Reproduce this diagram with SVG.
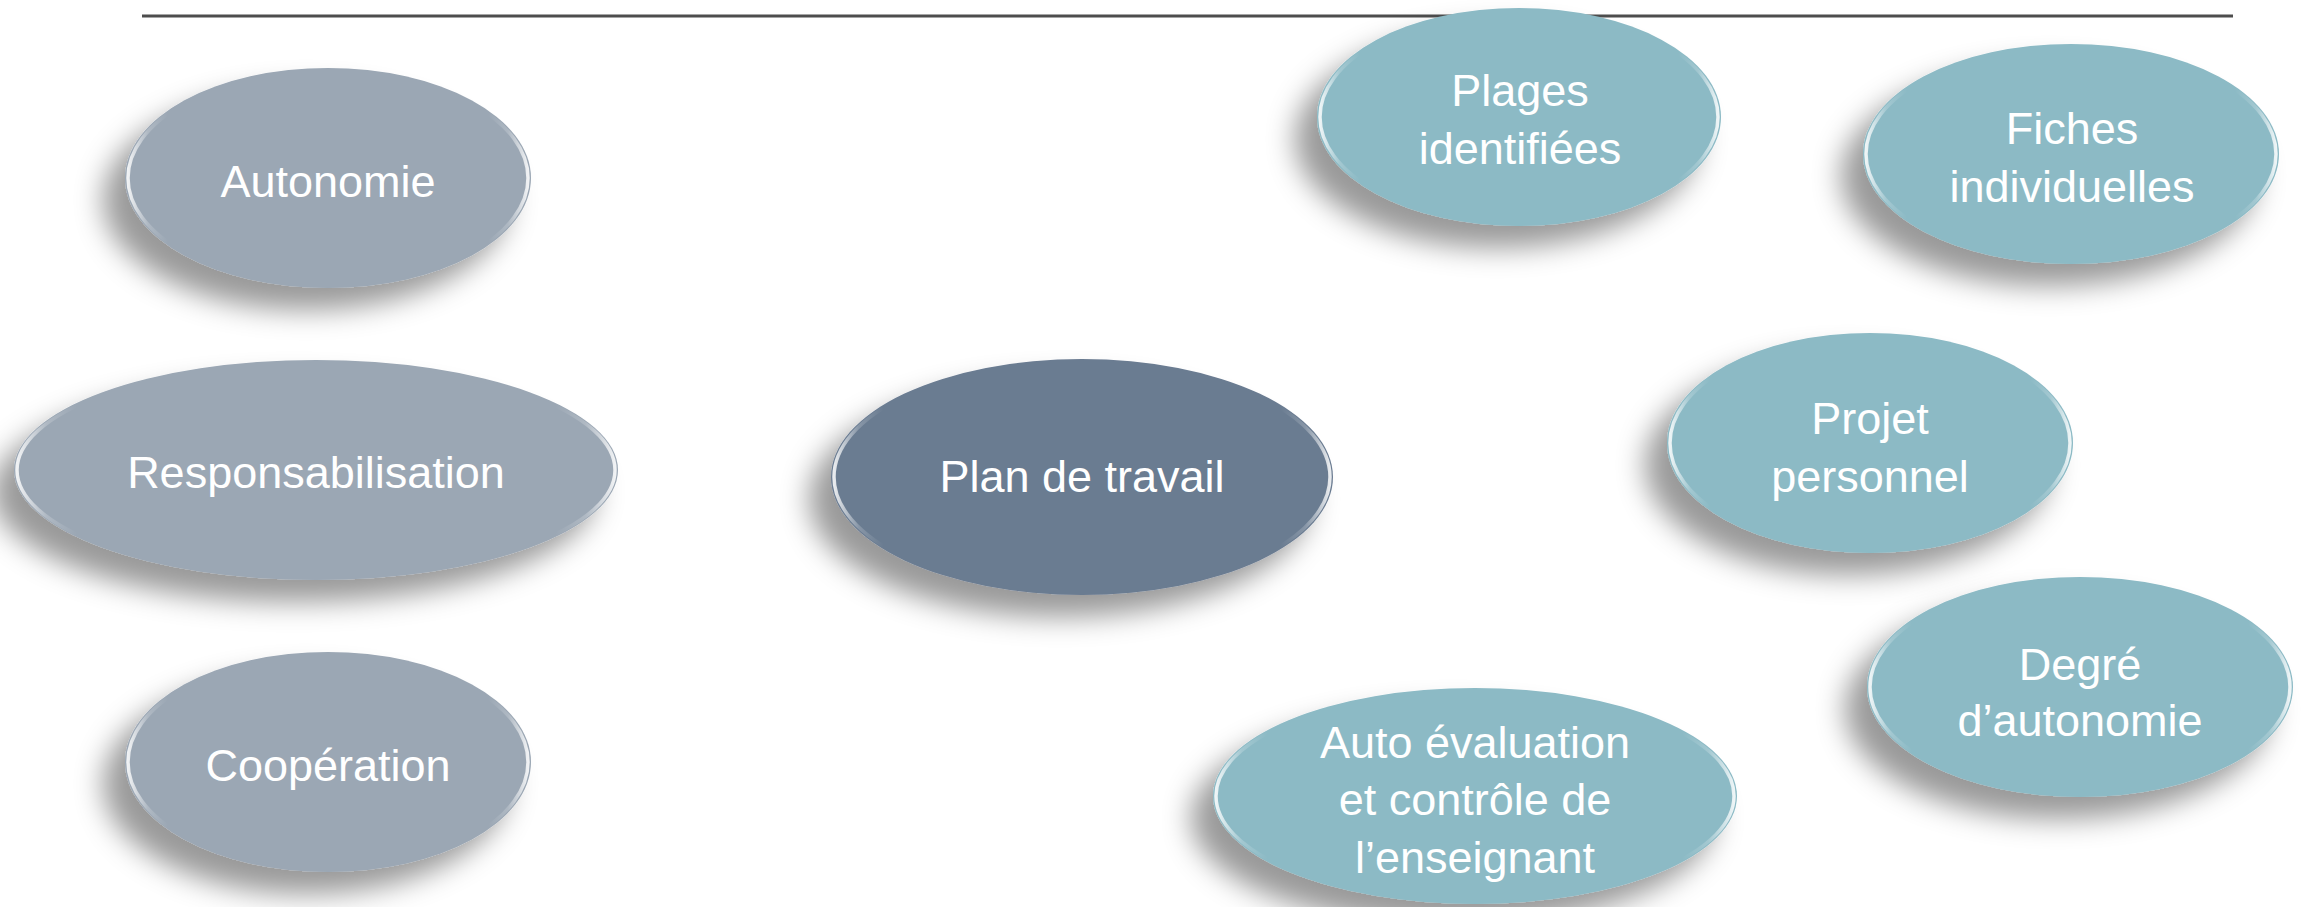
<svg xmlns="http://www.w3.org/2000/svg" width="2303" height="907" viewBox="0 0 2303 907">
  <style>
    .lbl { font-family: "Liberation Sans", Arial, sans-serif; font-size: 45px; fill: #ffffff; text-anchor: middle; }
    .gray { fill: #9BA7B4; }
    .dark { fill: #6A7B91; }
    .teal { fill: #8CBAC5; }
    .shape { filter: url(#shadow); }
    .rim { fill: none; stroke: url(#rimGrad); stroke-width: 3.5; }
  </style>
  <defs>
    <filter id="shadow" x="-25%" y="-25%" width="150%" height="160%">
      <feGaussianBlur in="SourceAlpha" stdDeviation="14" result="b"/>
      <feOffset in="b" dx="-22" dy="22" result="o"/>
      <feFlood flood-color="#000000" flood-opacity="0.4"/>
      <feComposite in2="o" operator="in" result="s"/>
      <feMerge>
        <feMergeNode in="s"/>
        <feMergeNode in="SourceGraphic"/>
      </feMerge>
    </filter>
    <linearGradient id="rimGrad" x1="0" y1="0" x2="1" y2="0">
      <stop offset="0" stop-color="#ffffff" stop-opacity="0.85"/>
      <stop offset="0.05" stop-color="#ffffff" stop-opacity="0.2"/>
      <stop offset="0.1" stop-color="#ffffff" stop-opacity="0"/>
      <stop offset="0.9" stop-color="#ffffff" stop-opacity="0"/>
      <stop offset="0.95" stop-color="#ffffff" stop-opacity="0.2"/>
      <stop offset="1" stop-color="#ffffff" stop-opacity="0.85"/>
    </linearGradient>
  </defs>

  <rect width="2303" height="907" fill="#ffffff"/>

  <g id="top-rule">
    <line x1="142" y1="16" x2="2233" y2="16" stroke="#4d4d4d" stroke-width="3"/>
  </g>

  <g id="connectors"/>

  <g id="autonomie">
    <ellipse class="gray shape" cx="328" cy="178" rx="203" ry="110"/>
    <ellipse class="rim" cx="328" cy="178" rx="200" ry="107"/>
    <text class="lbl" x="328" y="197">Autonomie</text>
  </g>

  <g id="responsabilisation">
    <ellipse class="gray shape" cx="316" cy="470" rx="302" ry="110"/>
    <ellipse class="rim" cx="316" cy="470" rx="299" ry="107"/>
    <text class="lbl" x="316" y="488">Responsabilisation</text>
  </g>

  <g id="cooperation">
    <ellipse class="gray shape" cx="328" cy="762" rx="203" ry="110"/>
    <ellipse class="rim" cx="328" cy="762" rx="200" ry="107"/>
    <text class="lbl" x="328" y="781">Coopération</text>
  </g>

  <g id="plan-de-travail">
    <ellipse class="dark shape" cx="1082" cy="477" rx="251" ry="118"/>
    <ellipse class="rim" cx="1082" cy="477" rx="248" ry="115"/>
    <text class="lbl" x="1082" y="492">Plan de travail</text>
  </g>

  <g id="plages-identifiees">
    <ellipse class="teal shape" cx="1519" cy="117" rx="202" ry="109"/>
    <ellipse class="rim" cx="1519" cy="117" rx="199" ry="106"/>
    <text class="lbl" x="1520" y="106">Plages</text>
    <text class="lbl" x="1520" y="164">identifiées</text>
  </g>

  <g id="fiches-individuelles">
    <ellipse class="teal shape" cx="2071" cy="154" rx="208" ry="110"/>
    <ellipse class="rim" cx="2071" cy="154" rx="205" ry="107"/>
    <text class="lbl" x="2072" y="144">Fiches</text>
    <text class="lbl" x="2072" y="202">individuelles</text>
  </g>

  <g id="projet-personnel">
    <ellipse class="teal shape" cx="1870" cy="443" rx="203" ry="110"/>
    <ellipse class="rim" cx="1870" cy="443" rx="200" ry="107"/>
    <text class="lbl" x="1870" y="434">Projet</text>
    <text class="lbl" x="1870" y="492">personnel</text>
  </g>

  <g id="degre-autonomie">
    <ellipse class="teal shape" cx="2080" cy="687" rx="213" ry="110"/>
    <ellipse class="rim" cx="2080" cy="687" rx="210" ry="107"/>
    <text class="lbl" x="2080" y="680">Degré</text>
    <text class="lbl" x="2080" y="736">d’autonomie</text>
  </g>

  <g id="auto-evaluation">
    <ellipse class="teal shape" cx="1475" cy="796" rx="262" ry="108"/>
    <ellipse class="rim" cx="1475" cy="796" rx="259" ry="105"/>
    <text class="lbl" x="1475" y="758">Auto évaluation</text>
    <text class="lbl" x="1475" y="815">et contrôle de</text>
    <text class="lbl" x="1475" y="873">l’enseignant</text>
  </g>
</svg>
